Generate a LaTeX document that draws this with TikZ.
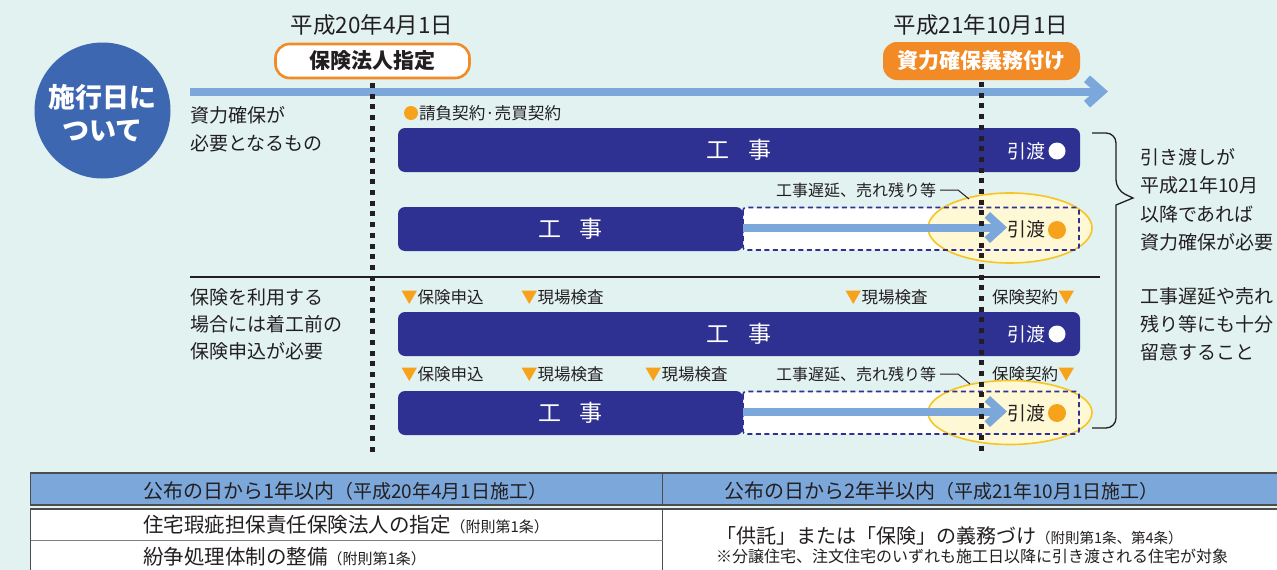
\documentclass[tikz,border=0pt]{standalone}
\usepackage{fontspec}
\setmainfont{Noto Sans CJK JP}
\usetikzlibrary{shapes.geometric}
\definecolor{bg}{HTML}{E1F2F1}
\definecolor{navy}{HTML}{2E3192}
\definecolor{lblue}{HTML}{7BA7DA}
\definecolor{cblue}{HTML}{3E67B1}
\definecolor{org}{HTML}{F28A26}
\definecolor{dotorg}{HTML}{F7A21B}
\definecolor{cream}{HTML}{FFF8D4}
\definecolor{yel}{HTML}{F6C425}
\definecolor{txt}{HTML}{231F20}
\definecolor{tline}{HTML}{4D4D4D}
\newcommand{\fsz}[2]{\fontsize{#1}{#2}\selectfont}
\newcommand{\tri}{{\color{dotorg}▼}}
\begin{document}
\begin{tikzpicture}[x=1pt,y=-1pt,
  every node/.style={inner sep=0pt,outer sep=0pt,text=txt},
  lbl/.style={font=\fsz{16.5}{20},anchor=west},
  bigtxt/.style={font=\fsz{19}{28.5},anchor=west,align=left},
  navybar/.style={fill=navy,rounded corners=7pt,anchor=north west,minimum height=44pt,text=white,font=\fsz{23}{23}},
  wbox/.style={fill=white,anchor=north west,minimum height=42.5pt,minimum width=336pt},
  dbox/.style={draw=navy,line width=1.6pt,dash pattern=on 5pt off 3.5pt,rounded corners=3pt},
  ovl/.style={ellipse,draw=yel,fill=cream,line width=1.6pt,minimum width=164pt,minimum height=70pt},
  dotline/.style={line width=5pt,dash pattern=on 5pt off 5.7pt,draw=txt},
  shaft/.style={draw=lblue,line width=8pt},
  ldr/.style={draw=txt,line width=1pt},
  odot/.style={circle,fill=dotorg,minimum size=18pt},
  wdot/.style={circle,fill=white,minimum size=17pt},
  hand/.style={font=\fsz{19}{19},anchor=west},
  datel/.style={font=\fsz{22.5}{22.5}},
  tagbox/.style={rounded corners=14pt,font=\fsz{21}{21}\bfseries},
]
\useasboundingbox (0,0) rectangle (1277,570);
\clip (0,0) rectangle (1277,570);
\fill[bg] (0,0) rectangle (1277,570);

% circle
\node[circle,fill=cblue,minimum size=136pt] (circ) at (102.5,110.5) {};
\node[font=\fsz{27}{33}\bfseries,text=white,align=center] (circt) at (102.5,113.5) {施行日に\\ついて};

% timeline
\coordinate (t0) at (190,91.5);
\coordinate (t1) at (1098,91.5);
\draw[shaft] (t0) -- (t1);
\fill[lblue] (1090,75.5) -- (1108,91.5) -- (1090,107.5) -- (1084,100.8) -- (1094.5,91.5) -- (1084,82.2) -- cycle;

% dates and tags
\node[datel] (date1) at (372,25) {平成20年4月1日};
\node[datel] (date2) at (981,25) {平成21年10月1日};
\node[tagbox,draw=org,line width=2.6pt,fill=white,minimum width=194pt,minimum height=34pt] (tag1) at (372.5,61) {保険法人指定};
\node[tagbox,fill=org,text=white,minimum width=197pt,minimum height=38pt] (tag2) at (981.5,61) {資力確保義務付け};

% left texts
\node[bigtxt] (lt1) at (190,129) {資力確保が\\必要となるもの};
\node[bigtxt,font=\fsz{19}{27}] (lt2) at (190,324.5) {保険を利用する\\場合には着工前の\\保険申込が必要};

% divider
\draw[draw=txt,line width=1.1pt] (190,277) -- (1100,277);

% row 1
\node[odot,minimum size=14pt] (od1) at (411,113) {};
\node[lbl,font=\fsz{16.6}{20}] (c1) at (419,113) {請負契約·売買契約};
\node[navybar,minimum width=682pt] (bar1) at (398,128) {工\hspace{0.8em}事};

% row 2
\node[wbox] (wb2) at (743,207.5) {};
\node[ovl] (el2) at (1010,228) {};
\draw[dbox] (wb2.north west) rectangle (wb2.south east);
\node[navybar,minimum width=345pt] (bar2) at (398,207) {工\hspace{0.8em}事};
\coordinate (a2) at (997,227.5);
\draw[shaft] (bar2.east |- a2) -- (a2);
\fill[lblue] (990,212) -- (1007,227.5) -- (990,243) -- (984.6,237.1) -- (995.1,227.5) -- (984.6,217.9) -- cycle;
\node[lbl,anchor=east,font=\fsz{16}{20}] (dl1) at (936,190) {工事遅延、売れ残り等};
\draw[ldr] ([xshift=4pt]dl1.east) -- ++(18,0) -- ++(11,9);

% row 3
\node[lbl] (r3a) at (401,297) {\tri 保険申込};
\node[lbl] (r3b) at (521,297) {\tri 現場検査};
\node[lbl] (r3c) at (845,297) {\tri 現場検査};
\node[lbl] (r3d) at (992,297) {保険契約\tri};
\node[navybar,minimum width=682pt] (bar3) at (398,312) {工\hspace{0.8em}事};

% row 4
\node[lbl] (r4a) at (401,374) {\tri 保険申込};
\node[lbl] (r4b) at (521,374) {\tri 現場検査};
\node[lbl] (r4c) at (645,374) {\tri 現場検査};
\node[lbl] (r4d) at (992,374) {保険契約\tri};
\node[wbox] (wb4) at (743,391.5) {};
\node[ovl,minimum height=64pt] (el4) at (1010,412.5) {};
\draw[dbox] (wb4.north west) rectangle (wb4.south east);
\node[navybar,minimum width=345pt] (bar4) at (398,391) {工\hspace{0.8em}事};
\coordinate (a4) at (997,411.5);
\draw[shaft] (bar4.east |- a4) -- (a4);
\fill[lblue] (990,396) -- (1007,411.5) -- (990,427) -- (984.6,421.1) -- (995.1,411.5) -- (984.6,401.9) -- cycle;
\node[lbl,anchor=east,font=\fsz{16}{20}] (dl2) at (936,374) {工事遅延、売れ残り等};
\draw[ldr] ([xshift=4pt]dl2.east) -- ++(18,0) -- ++(12,10);

% dotted verticals
\coordinate (v1t) at (372,83);
\coordinate (v1b) at (372,456);
\coordinate (v2t) at (981.5,82);
\coordinate (v2b) at (981.5,456);
\draw[dotline] (v1t) -- (v1b);
\draw[dotline] (v2t) -- (v2b);

% handover labels
\node[hand,text=white] (h1) at (1007,151) {引渡};
\node[wdot] (h1d) at (1057,151) {};
\node[hand] (h2) at (1007,229) {引渡};
\node[odot] (h2d) at (1057,230) {};
\node[hand,text=white] (h3) at (1007,334) {引渡};
\node[wdot] (h3d) at (1057,334) {};
\node[hand] (h4) at (1007,413) {引渡};
\node[odot] (h4d) at (1057,413) {};

% brace
\draw[draw=txt,line width=1.3pt] (1092,133) [rounded corners=10pt] -- (1116,133) -- (1116,190) [sharp corners] -- (1133,198) -- (1116,205) [rounded corners=10pt] -- (1116,428) -- (1092,428);

% right texts
\node[bigtxt] (rt1) at (1140,200) {引き渡しが\\平成21年10月\\以降であれば\\資力確保が必要};
\node[bigtxt,font=\fsz{19}{28}] (rt2) at (1140,324) {工事遅延や売れ\\残り等にも十分\\留意すること};

% table
\draw[fill=lblue,draw=tline,line width=1.3pt] (30.5,473) rectangle (1300,505);
\draw[fill=white,draw=tline,line width=1.3pt] (30.5,509) rectangle (1300,600);
\draw[draw=tline,line width=1.5pt] (662.5,473) -- (662.5,505);
\draw[draw=tline,line width=1.5pt] (662.5,509) -- (662.5,600);
\draw[draw=gray,line width=1pt] (30.5,540) -- (662.5,540);
\node[anchor=west,font=\fsz{20}{20}] (th1) at (143,491) {公布の日から1年以内{\fsz{19}{20}（平成20年4月1日施工）}};
\node[anchor=west,font=\fsz{20}{20}] (th2) at (724,491) {公布の日から2年半以内{\fsz{19}{20}（平成21年10月1日施工）}};
\node[anchor=west,font=\fsz{20.5}{20}] (tb1) at (143,524.5) {住宅瑕疵担保責任保険法人の指定{\fsz{15}{16}（附則第1条）}};
\node[anchor=west,font=\fsz{20.5}{20}] (tb2) at (143,557) {紛争処理体制の整備{\fsz{15}{16}（附則第1条）}};
\node[anchor=west,font=\fsz{20}{20}] (tb3) at (716,536) {「供託」または「保険」の義務づけ{\fsz{14.5}{16}（附則第1条、第4条）}};
\node[anchor=west,font=\fsz{16}{16}] (tb4) at (716,556) {※分譲住宅、注文住宅のいずれも施工日以降に引き渡される住宅が対象};
\end{tikzpicture}
\end{document}
